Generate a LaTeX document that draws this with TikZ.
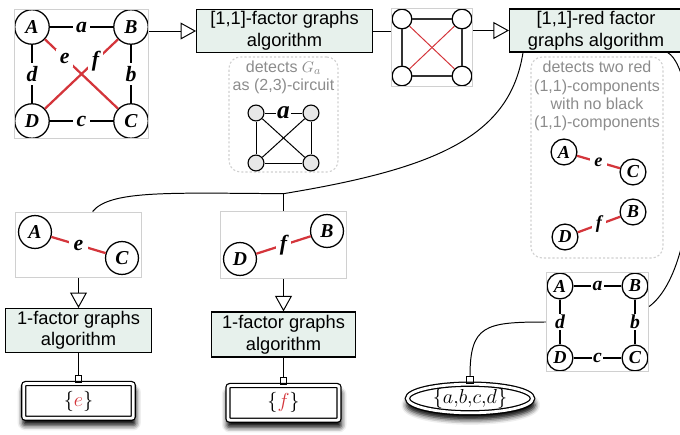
\documentclass[tikz,border=0pt]{standalone}
\usepackage{fontspec}
\setmainfont{Liberation Serif}
\setsansfont{Liberation Sans}
\usetikzlibrary{arrows.meta, positioning, fit, shapes.geometric, shadows.blur}

\definecolor{algofill}{HTML}{E7F1EC}
\definecolor{edgered}{HTML}{D4353B}
\definecolor{framegray}{HTML}{D0D0D0}
\definecolor{notegray}{HTML}{8C8C8C}

\begin{document}
\begin{tikzpicture}[
        x=0.025cm, y=-0.025cm,
        algo/.style={rectangle, draw, thick, fill=algofill, align=center, inner sep=1pt, font=\sffamily\fontsize{13}{15.5}\selectfont},
        frame/.style={rectangle, draw=framegray, thick, inner sep=0pt},
        note/.style={rectangle, draw=framegray, dash pattern=on 1.5pt off 1.5pt, thick, rounded corners=8pt, inner sep=0pt},
        notetext/.style={align=center, text=notegray, font=\sffamily\fontsize{11.4}{13}\selectfont},
        vtx/.style={circle, draw, line width=0.9pt, fill=white, inner sep=0pt, minimum size=24.5pt, font=\bfseries\itshape\fontsize{14}{14}\selectfont},
        smallvtx/.style={vtx, minimum size=18.4pt, font=\bfseries\itshape\fontsize{13}{13}\selectfont},
        plainvtx/.style={circle, draw, line width=0.9pt, fill=white, inner sep=0pt, minimum size=14pt},
        dotvtx/.style={circle, draw, thick, fill=gray!18, inner sep=0pt, minimum size=11.3pt},
        elbl/.style={fill=white, text=black, inner sep=2.5pt, font=\bfseries\itshape\fontsize{15.5}{15.5}\selectfont},
        smallelbl/.style={elbl, inner sep=1pt, font=\bfseries\itshape\fontsize{14}{14}\selectfont},
        edge/.style={line width=1.4pt},
        rededge/.style={line width=1.6pt, edgered},
        result/.style={rectangle, draw, double, double distance=2pt, line width=0.9pt, rounded corners=1.5pt, fill=white, font=\fontsize{14.5}{16}\selectfont,
            blur shadow={shadow xshift=0.5pt, shadow yshift=-4.5pt, shadow blur radius=3.5pt, shadow scale=1.03, shadow opacity=100}},
        conn/.style={line width=0.7pt},
        flow/.style={conn, -{Triangle[open, length=11pt, width=12pt]}},
        yields/.style={conn, -{Square[open, length=5.5pt, width=5.5pt]}}
    ]
    \useasboundingbox (0,0) rectangle (680,435);
    \clip (0,0) rectangle (680,435);

    % Input graph
    \node[vtx] (a1) at (32,27) {A};
    \node[vtx] (b1) at (131,27) {B};
    \node[vtx] (c1) at (131,121) {C};
    \node[vtx] (d1) at (32,121) {D};
    \node[frame, fit=(a1)(c1)] (g1) {};
    \draw[edge] (a1) -- node[elbl] {a} (b1);
    \draw[edge] (b1) -- node[elbl] {b} (c1);
    \draw[edge] (d1) -- node[elbl] {c} (c1);
    \draw[edge] (a1) -- node[elbl] {d} (d1);
    \draw[rededge] (a1) -- node[elbl, pos=0.27] {e} (c1);
    \draw[rededge] (b1) -- node[elbl, pos=0.31] {f} (d1);

    % Stage 1: [1,1]-factor graphs
    \node[algo, minimum width=125pt, minimum height=31pt] (box1) at (284.5,31) {[1,1]-factor graphs\\algorithm};
    \draw[flow] (g1.east |- box1.west) -- (box1.west);

    % what stage 1 detects
    \node[note, fit={(229,57) (338,172)}] (note1) {};
    \node[notetext] (note1txt) at (283.5,77) {detects $G_a$\\as (2,3)-circuit};
    \node[dotvtx] (k1) at (256,113) {};
    \node[dotvtx] (k2) at (311,113) {};
    \node[dotvtx] (k3) at (311,163) {};
    \node[dotvtx] (k4) at (256,163) {};
    \draw[conn] (k1) -- node[smallelbl, font=\bfseries\itshape\fontsize{18}{18}\selectfont] {a} (k2);
    \draw[conn] (k2) -- (k3) -- (k4) -- (k1);
    \draw[conn] (k1) -- (k3);
    \draw[conn] (k2) -- (k4);

    % Graph handed on
    \node[plainvtx] (a2) at (402,19) {};
    \node[plainvtx] (b2) at (462,19) {};
    \node[plainvtx] (c2) at (462,76) {};
    \node[plainvtx] (d2) at (402,76) {};
    \node[frame, fit=(a2)(c2)] (g2) {};
    \draw[line width=1.2pt, black!80] (a2) -- (b2) -- (c2) -- (d2) -- (a2);
    \draw[line width=0.7pt, edgered] (a2) -- (c2);
    \draw[line width=0.7pt, edgered] (b2) -- (d2);
    \draw[conn] (box1.east) -- (box1.east -| g2.west);

    % Stage 2: [1,1]-red factor graphs
    \node[algo, minimum width=123pt, minimum height=30.5pt] (box2) at (596,30.5) {[1,1]-red factor\\graphs algorithm};
    \draw[flow] (g2.east |- box2.west) -- (box2.west);

    % what stage 2 detects
    \node[note, fit={(531,57) (663,258)}] (note2) {};
    \node[notetext] (note2txt) at (597,96) {detects two red\\(1,1)-components\\with no black\\(1,1)-components};
    \node[smallvtx] (a3) at (564,152) {A};
    \node[smallvtx] (c3) at (633,172) {C};
    \node[smallvtx] (d3) at (565,237) {D};
    \node[smallvtx] (b3) at (633,212) {B};
    \draw[rededge] (a3) -- node[smallelbl, inner sep=3pt, font=\bfseries\itshape\fontsize{13}{13}\selectfont] {e} (c3);
    \draw[rededge] (d3) -- node[smallelbl, inner sep=3pt, font=\bfseries\itshape\fontsize{13}{13}\selectfont] {f} (b3);

    % Red components, one per branch
    \node[vtx, minimum size=23.4pt] (a4) at (35,232) {A};
    \node[vtx, minimum size=23.4pt] (c4) at (122,258) {C};
    \node[frame, fit=(a4)(c4), inner sep=2pt] (pairAC) {};
    \draw[rededge] (a4) -- node[elbl, inner sep=3pt] {e} (c4);

    \node[vtx, minimum size=23.4pt] (d5) at (240,259) {D};
    \node[vtx, minimum size=23.4pt] (b5) at (327,231) {B};
    \node[frame, fit=(d5)(b5), inner sep=2pt] (pairDB) {};
    \draw[rededge] (d5) -- node[elbl, inner sep=3pt] {f} (b5);

    \coordinate (fork) at ([yshift=12pt]pairDB.north);
    \draw[conn] ([xshift=10pt]box2.south west) .. controls (510,135) and (440,168) .. (fork)
        .. controls (170,193) and (110,190) .. ([xshift=10pt]pairAC.north);
    \draw[conn] (fork) -- (pairDB.north);

    % Stage 3: 1-factor graphs on each component
    \node[algo, minimum width=103.5pt, minimum height=31pt, below=21pt of pairAC] (box3) {1-factor graphs\\algorithm};
    \node[algo, minimum width=103pt, minimum height=32pt, below=22.7pt of pairDB] (box4) {1-factor graphs\\algorithm};
    \draw[flow] (pairAC.south) -- (pairAC.south |- box3.north);
    \draw[flow] (pairDB.south) -- (pairDB.south |- box4.north);

    \node[result, minimum width=78pt, minimum height=24.7pt, below=21.5pt of box3] (resE) {$\{\textcolor{edgered}{e}\}$};
    \node[result, minimum width=79pt, minimum height=24.7pt, below=19.5pt of box4] (resF) {$\{\textcolor{edgered}{f}\}$};
    \draw[yields] (box3) -- (resE);
    \draw[yields] (box4) -- (resF);

    % Black cycle left over
    \node[smallvtx] (a6) at (560,286) {A};
    \node[smallvtx] (b6) at (635,286) {B};
    \node[smallvtx] (c6) at (635,358) {C};
    \node[smallvtx] (d6) at (560,358) {D};
    \node[frame, fit=(a6)(c6)] (g3) {};
    \draw[edge] (a6) -- node[smallelbl] {a} (b6);
    \draw[edge] (b6) -- node[smallelbl] {b} (c6);
    \draw[edge] (d6) -- node[smallelbl] {c} (c6);
    \draw[edge] (a6) -- node[smallelbl] {d} (d6);
    \draw[conn] ([xshift=-11pt]box2.south east) .. controls (700,70) and (705,265) .. ([yshift=11pt]g3.east);

    \node[result, ellipse, rounded corners=0pt, inner sep=0pt, minimum width=89pt, minimum height=17pt] (tuple) at (470,398.5) {$\{a{,}b{,}c{,}d\}$};
    \draw[yields] (g3.west) .. controls (485,322) and (470,325) .. (tuple.north);

\end{tikzpicture}
\end{document}
